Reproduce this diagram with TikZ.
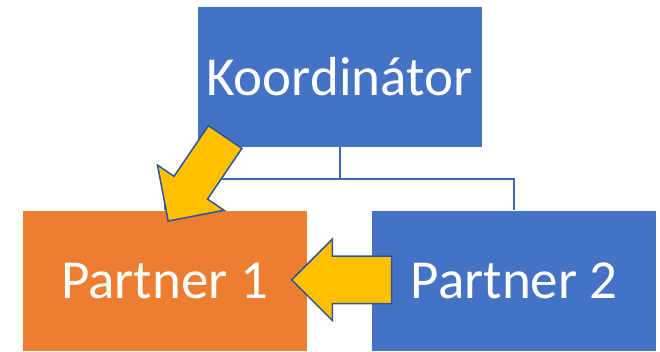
\documentclass[tikz,border=0pt]{standalone}
\usepackage{fontspec}
\setmainfont{Carlito}
\usetikzlibrary{positioning,calc,shapes.arrows}
\definecolor{boxblue}{HTML}{4472C4}
\definecolor{boxorange}{HTML}{ED7D31}
\definecolor{linkblue}{HTML}{3F68B3}
\definecolor{arrowyellow}{HTML}{FFC000}
\definecolor{arrowline}{HTML}{2F5597}
\begin{document}
\begin{tikzpicture}[x=1pt,y=1pt,node distance=63pt,
        main node/.style={draw=white,line width=0.8pt,minimum width=285pt,minimum height=141pt,
            inner sep=0pt,text=white,font=\fontsize{55}{60}\selectfont},
        link/.style={draw=linkblue,line width=2pt},
        block arrow/.style={single arrow,draw=arrowline,fill=arrowyellow,line width=1.5pt,
            inner sep=0pt,single arrow head indent=0pt,anchor=tail}]
    \useasboundingbox (0,0) rectangle (660,351);

    % Define vertices
    \node[main node,fill=boxblue] (koord) at (339.5,274.5) {Koordinátor};
    \node[main node,fill=boxorange] (p1) [below=of koord,xshift=-175pt] {Partner 1};
    \node[main node,fill=boxblue] (p2) [right=64pt of p1] {Partner 2};

    % Draw edges
    \draw[link] (koord.south) -- ++(0,-32) coordinate (fork);
    \draw[link] (fork) -| (p1.north);
    \draw[link] (fork) -| (p2.north);

    % Yellow arrows
    \coordinate (d1) at ([shift={(29,11)}]koord.south west);
    \coordinate (d2) at ([shift={(147,-10)}]p1.north west);
    \coordinate (h1) at ([shift={(21,1.5)}]p2.west);
    \coordinate (h2) at ([shift={(-15,1.5)}]p1.east);
    \path let \p1=($(d2)-(d1)$), \n1={veclen(\x1,\y1)}, \n2={atan2(\y1,\x1)} in
        node[block arrow,minimum height=\n1,single arrow head extend=20pt,rotate=\n2]
            (diag) at (d1) {\rule{0pt}{39pt}};
    \path let \p1=($(h2)-(h1)$), \n1={veclen(\x1,\y1)}, \n2={atan2(\y1,\x1)} in
        node[block arrow,minimum height=\n1,single arrow head extend=17pt,rotate=\n2]
            (horiz) at (h1) {\rule{0pt}{46pt}};

\end{tikzpicture}
\end{document}
